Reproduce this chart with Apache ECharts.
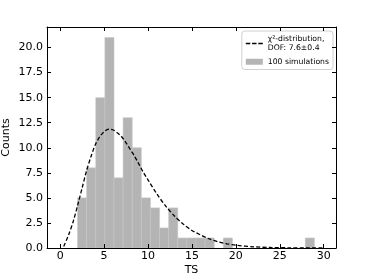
<!DOCTYPE html>
<html>
<head>
<meta charset="utf-8">
<script src="https://cdn.jsdelivr.net/npm/echarts@6/dist/echarts.min.js"></script>
<style>html,body{margin:0;padding:0;background:#fff}#c{width:374px;height:280px}</style>
</head>
<body>
<div id="c"></div>
<script>
// Histogram of 100 simulations
const binStart = 1.98;
const binWidth = 1.037;
const counts = [5, 8, 15, 21, 7, 13, 10, 5, 4, 2, 4, 1, 1, 1, 1, 0, 1, 0, 0, 0, 0, 0, 0, 0, 0, 1];

// chi^2 curve
const curveX = [0.4, 1.0, 1.5, 2.0, 2.5, 3.0, 3.5, 4.0, 4.5, 5.0, 5.5, 6.0, 6.5, 7.0, 7.5, 8.0, 8.5, 9.0, 9.5, 10, 11, 12, 13, 14, 15, 16, 17, 18, 19, 20, 22, 24, 26, 28, 30];
const curveY = [0.15, 1.4, 2.7, 4.3, 6.0, 7.7, 9.1, 10.3, 11.1, 11.6, 11.85, 11.8, 11.5, 11.1, 10.5, 9.8, 9.1, 8.3, 7.5, 6.8, 5.4, 4.2, 3.2, 2.4, 1.75, 1.3, 0.9, 0.62, 0.42, 0.28, 0.12, 0.05, 0.02, 0.01, 0.0];

const xTicks = [0, 5, 10, 15, 20, 25, 30];
const yTicks = [0, 2.5, 5, 7.5, 10, 12.5, 15, 17.5, 20];

const lineName = 'χ²-distribution,\nDOF: 7.6±0.4';
const histName = '100 simulations';

const FONT = 'DejaVu Sans';
const xMin = -1.5, xMax = 31.4, yMin = 0, yMax = 22.05;

const histData = counts.map((c, i) => [binStart + i * binWidth, binStart + (i + 1) * binWidth, c]);
const curveData = curveX.map((x, i) => [x, curveY[i]]);

function axisBase() {
  return {
    axisLine: { show: true, onZero: false, lineStyle: { color: '#000', width: 1 } },
    splitLine: { show: false },
    z: 5
  };
}
function ticks(vals) {
  return { show: true, inside: true, length: 4, customValues: vals, lineStyle: { color: '#000', width: 1 } };
}

const chart = echarts.init(document.getElementById('c'), null, { renderer: 'canvas' });
chart.setOption({
  animation: false,
  backgroundColor: '#fff',
  grid: { left: 47, right: 38, top: 27, bottom: 32, containLabel: false, outerBoundsMode: 'none' },
  legend: {
    orient: 'vertical',
    right: 41,
    top: 31,
    itemWidth: 17,
    itemHeight: 6,
    itemGap: 4,
    padding: [3, 4, 3, 4],
    borderColor: '#d0d0d0',
    borderWidth: 1,
    borderRadius: 3,
    backgroundColor: '#fff',
    textStyle: { fontFamily: FONT, fontSize: 7.7, color: '#000', lineHeight: 9.5 },
    data: [
      { name: lineName, icon: 'path://M0,0h5v1.6h-5zM7,0h5v1.6h-5zM14,0h5v1.6h-5z', itemStyle: { color: '#000' } },
      { name: histName, icon: 'rect' }
    ]
  },
  xAxis: [
    Object.assign(axisBase(), {
      type: 'value', position: 'bottom', min: xMin, max: xMax,
      name: 'TS', nameLocation: 'middle', nameGap: 17, nameMoveOverlap: false,
      nameTextStyle: { fontFamily: FONT, fontSize: 11, color: '#000' },
      axisTick: ticks(xTicks),
      axisLabel: { customValues: xTicks, fontFamily: FONT, fontSize: 11, color: '#000', margin: 3 }
    }),
    Object.assign(axisBase(), {
      type: 'value', position: 'top', min: xMin, max: xMax,
      axisTick: ticks(xTicks),
      axisLabel: { show: false, customValues: xTicks }
    })
  ],
  yAxis: [
    Object.assign(axisBase(), {
      type: 'value', position: 'left', min: yMin, max: yMax,
      name: 'Counts', nameLocation: 'middle', nameGap: 35, nameMoveOverlap: false,
      nameTextStyle: { fontFamily: FONT, fontSize: 11, color: '#000' },
      axisTick: ticks(yTicks),
      axisLabel: { customValues: yTicks, fontFamily: FONT, fontSize: 11, color: '#000', margin: 4,
        formatter: v => v.toFixed(1) }
    }),
    Object.assign(axisBase(), {
      type: 'value', position: 'right', min: yMin, max: yMax,
      axisTick: ticks(yTicks),
      axisLabel: { show: false, customValues: yTicks }
    })
  ],
  series: [
    {
      name: lineName,
      type: 'line',
      xAxisIndex: 0, yAxisIndex: 0,
      data: curveData,
      smooth: 0.3,
      symbol: 'none',
      z: 3,
      lineStyle: { color: '#000', width: 1.3, type: [4, 2.2] },
      itemStyle: { color: '#000' }
    },
    {
      name: histName,
      type: 'custom',
      xAxisIndex: 0, yAxisIndex: 0,
      z: 2,
      itemStyle: { color: '#b4b4b4' },
      encode: { x: [0, 1], y: 2 },
      data: histData,
      renderItem: function (params, api) {
        const c = api.value(2);
        if (!c) return null;
        const p0 = api.coord([api.value(0), c]);
        const p1 = api.coord([api.value(1), 0]);
        return {
          type: 'rect',
          shape: { x: p0[0], y: p0[1], width: p1[0] - p0[0], height: p1[1] - p0[1] },
          style: { fill: '#b4b4b4', stroke: '#c6c6c6', lineWidth: 0.6 }
        };
      }
    }
  ]
});
</script>
</body>
</html>
